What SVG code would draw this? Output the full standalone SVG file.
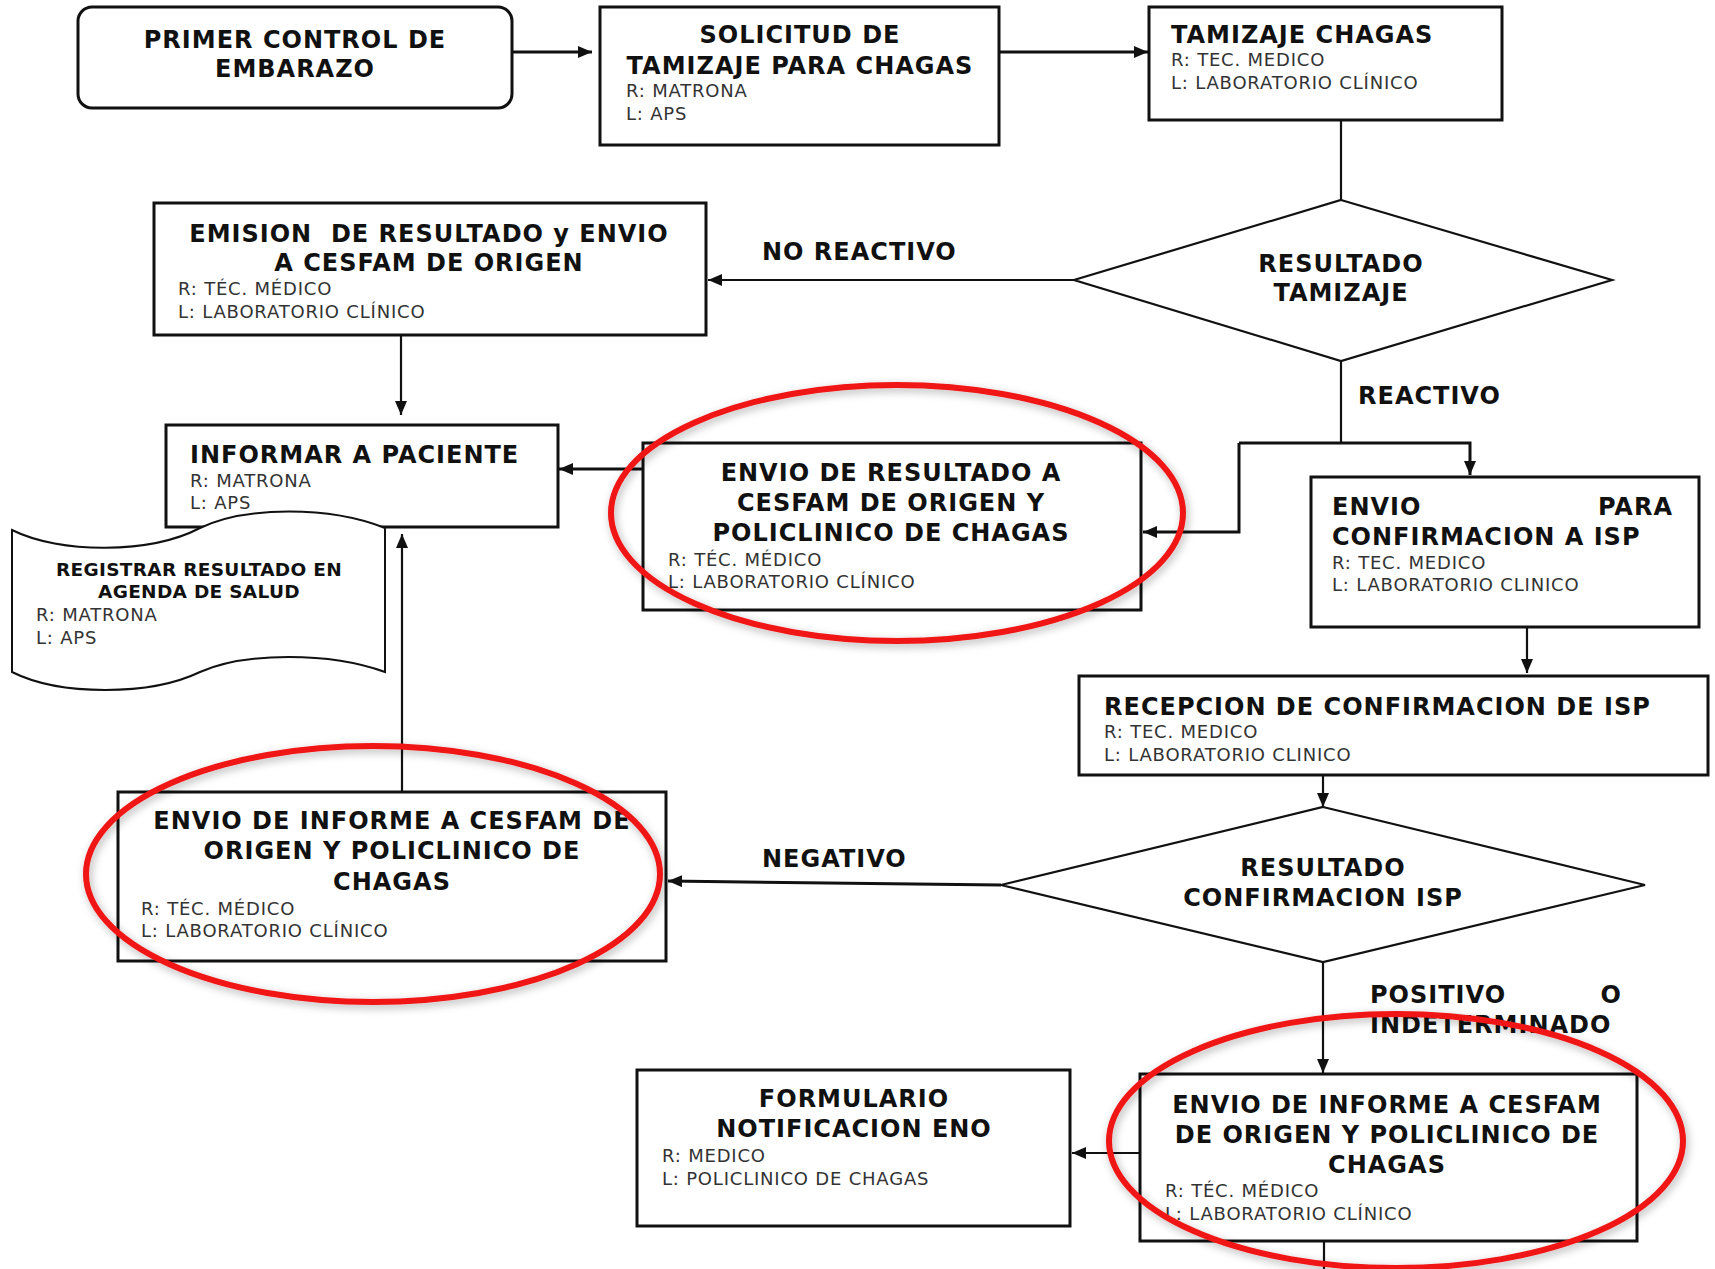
<svg xmlns="http://www.w3.org/2000/svg" width="1715" height="1269" viewBox="0 0 1715 1269">
<style>
.box{fill:#fff;stroke:#111;stroke-width:3}
.dia{fill:#fff;stroke:#111;stroke-width:2.2}
.b{font-family:"DejaVu Sans",Verdana,sans-serif;font-weight:bold;font-size:24px;letter-spacing:1px;fill:#111}
.bc{text-anchor:middle}
.s{font-family:"DejaVu Sans",Verdana,sans-serif;font-size:18px;letter-spacing:0.8px;fill:#333}
.t{font-family:"DejaVu Sans",Verdana,sans-serif;font-weight:bold;font-size:18.5px;letter-spacing:0.3px;fill:#111;text-anchor:middle}
.ln{fill:none;stroke:#111;stroke-width:2.2}
.thick{stroke-width:3}
.ring{fill:none;stroke:#f01414;stroke-width:6;filter:url(#sh)}
</style>
<defs>
<marker id="ah" viewBox="0 0 14 12" refX="14" refY="6" markerWidth="14" markerHeight="12" markerUnits="userSpaceOnUse" orient="auto">
<path d="M0,0 L14,6 L0,12 z" fill="#111"/>
</marker>
<filter id="sh" x="-10%" y="-15%" width="120%" height="130%">
<feDropShadow dx="2" dy="3" stdDeviation="4.5" flood-color="#000" flood-opacity="0.3"/>
</filter>
</defs>
<rect width="1715" height="1269" fill="#fff"/>

<g id="connectors">
<path class="ln thick" d="M512,52 H592" marker-end="url(#ah)"/>
<path class="ln thick" d="M999,52 H1148" marker-end="url(#ah)"/>
<path class="ln" d="M1341,120 V200"/>
<path class="ln" d="M1074,280 H708" marker-end="url(#ah)"/>
<path class="ln" d="M401,335 V415" marker-end="url(#ah)"/>
<path class="ln thick" d="M643,469 H559" marker-end="url(#ah)"/>
<path class="ln" d="M1341,361 V443"/>
<path class="ln thick" d="M1239,443 H1470 V475" marker-end="url(#ah)"/>
<path class="ln thick" d="M1239,443 V532 H1143" marker-end="url(#ah)"/>
<path class="ln" d="M1527,627 V673" marker-end="url(#ah)"/>
<path class="ln" d="M1323,775 V807" marker-end="url(#ah)"/>
<path class="ln thick" d="M1001,885 L668,881" marker-end="url(#ah)"/>
<path class="ln" d="M402,792 V534" marker-end="url(#ah)"/>
<path class="ln" d="M1323,962 V1073" marker-end="url(#ah)"/>
<path class="ln" d="M1140,1153 H1072" marker-end="url(#ah)"/>
<path class="ln" d="M1324,1241 V1269"/>
<text class="b" x="762" y="260">NO REACTIVO</text>
<text class="b" x="1358" y="404">REACTIVO</text>
<text class="b" x="762" y="867">NEGATIVO</text>
<text class="b" x="1370" y="1003">POSITIVO</text>
<text class="b" x="1622" y="1003" text-anchor="end">O</text>
<text class="b" x="1370" y="1033">INDETERMINADO</text>
</g>

<g id="n1">
<rect class="box" x="78" y="7" width="434" height="101" rx="14"/>
<text class="b bc" x="295" y="48">PRIMER CONTROL DE</text>
<text class="b bc" x="295" y="77">EMBARAZO</text>
</g>

<g id="n2">
<rect class="box" x="600" y="7" width="399" height="138"/>
<text class="b bc" x="800" y="43">SOLICITUD DE</text>
<text class="b bc" x="800" y="74">TAMIZAJE PARA CHAGAS</text>
<text class="s" x="626" y="97">R: MATRONA</text>
<text class="s" x="626" y="120">L: APS</text>
</g>

<g id="n3">
<rect class="box" x="1149" y="7" width="353" height="113"/>
<text class="b" x="1171" y="43">TAMIZAJE CHAGAS</text>
<text class="s" x="1171" y="66">R: TEC. MEDICO</text>
<text class="s" x="1171" y="89">L: LABORATORIO CLÍNICO</text>
</g>

<g id="d1">
<polygon class="dia" points="1341,200 1612,280 1341,361 1074,280"/>
<text class="b bc" x="1341" y="272">RESULTADO</text>
<text class="b bc" x="1341" y="301">TAMIZAJE</text>
</g>

<g id="n4">
<rect class="box" x="154" y="203" width="552" height="132"/>
<text class="b bc" x="429" y="242" style="white-space:pre">EMISION  DE RESULTADO y ENVIO</text>
<text class="b bc" x="429" y="271">A CESFAM DE ORIGEN</text>
<text class="s" x="178" y="295">R: TÉC. MÉDICO</text>
<text class="s" x="178" y="318">L: LABORATORIO CLÍNICO</text>
</g>

<g id="n5">
<rect class="box" x="166" y="425" width="392" height="102"/>
<text class="b" x="190" y="463">INFORMAR A PACIENTE</text>
<text class="s" x="190" y="487">R: MATRONA</text>
<text class="s" x="190" y="509">L: APS</text>
</g>

<g id="n6">
<path d="M12,530 C60,554 150,554 200,528 C245,506 330,506 385,528 L385,672 C330,652 245,652 200,672 C150,696 60,696 12,672 Z" fill="#fff" stroke="#111" stroke-width="2"/>
<text class="t" x="199" y="576">REGISTRAR RESULTADO EN</text>
<text class="t" x="199" y="598">AGENDA DE SALUD</text>
<text class="s" x="36" y="621">R: MATRONA</text>
<text class="s" x="36" y="644">L: APS</text>
</g>

<g id="n7">
<rect class="box" x="643" y="443" width="498" height="167"/>
<text class="b bc" x="891" y="481">ENVIO DE RESULTADO A</text>
<text class="b bc" x="891" y="511">CESFAM DE ORIGEN Y</text>
<text class="b bc" x="891" y="541">POLICLINICO DE CHAGAS</text>
<text class="s" x="668" y="566">R: TÉC. MÉDICO</text>
<text class="s" x="668" y="588">L: LABORATORIO CLÍNICO</text>
</g>

<g id="n8">
<rect class="box" x="1311" y="477" width="388" height="150"/>
<text class="b" x="1332" y="515">ENVIO</text>
<text class="b" x="1673" y="515" text-anchor="end">PARA</text>
<text class="b" x="1332" y="545">CONFIRMACION A ISP</text>
<text class="s" x="1332" y="569">R: TEC. MEDICO</text>
<text class="s" x="1332" y="591">L: LABORATORIO CLINICO</text>
</g>

<g id="n9">
<rect class="box" x="1079" y="676" width="629" height="99"/>
<text class="b" x="1104" y="715">RECEPCION DE CONFIRMACION DE ISP</text>
<text class="s" x="1104" y="738">R: TEC. MEDICO</text>
<text class="s" x="1104" y="761">L: LABORATORIO CLINICO</text>
</g>

<g id="d2">
<polygon class="dia" points="1323,807 1645,885 1323,962 1001,885"/>
<text class="b bc" x="1323" y="876">RESULTADO</text>
<text class="b bc" x="1323" y="906">CONFIRMACION ISP</text>
</g>

<g id="n10">
<rect class="box" x="118" y="792" width="548" height="169"/>
<text class="b bc" x="392" y="829">ENVIO DE INFORME A CESFAM DE</text>
<text class="b bc" x="392" y="859">ORIGEN Y POLICLINICO DE</text>
<text class="b bc" x="392" y="890">CHAGAS</text>
<text class="s" x="141" y="915">R: TÉC. MÉDICO</text>
<text class="s" x="141" y="937">L: LABORATORIO CLÍNICO</text>
</g>

<g id="n11">
<rect class="box" x="637" y="1070" width="433" height="156"/>
<text class="b bc" x="854" y="1107">FORMULARIO</text>
<text class="b bc" x="854" y="1137">NOTIFICACION ENO</text>
<text class="s" x="662" y="1162">R: MEDICO</text>
<text class="s" x="662" y="1185">L: POLICLINICO DE CHAGAS</text>
</g>

<g id="n12">
<rect class="box" x="1140" y="1074" width="497" height="167"/>
<text class="b bc" x="1387" y="1113">ENVIO DE INFORME A CESFAM</text>
<text class="b bc" x="1387" y="1143">DE ORIGEN Y POLICLINICO DE</text>
<text class="b bc" x="1387" y="1173">CHAGAS</text>
<text class="s" x="1165" y="1197">R: TÉC. MÉDICO</text>
<text class="s" x="1165" y="1220">L: LABORATORIO CLÍNICO</text>
</g>

<g id="highlights">
<ellipse class="ring" cx="897" cy="513" rx="286" ry="128"/>
<ellipse class="ring" cx="373" cy="874" rx="287" ry="128"/>
<ellipse class="ring" cx="1396" cy="1141" rx="287" ry="127"/>
</g>
</svg>
